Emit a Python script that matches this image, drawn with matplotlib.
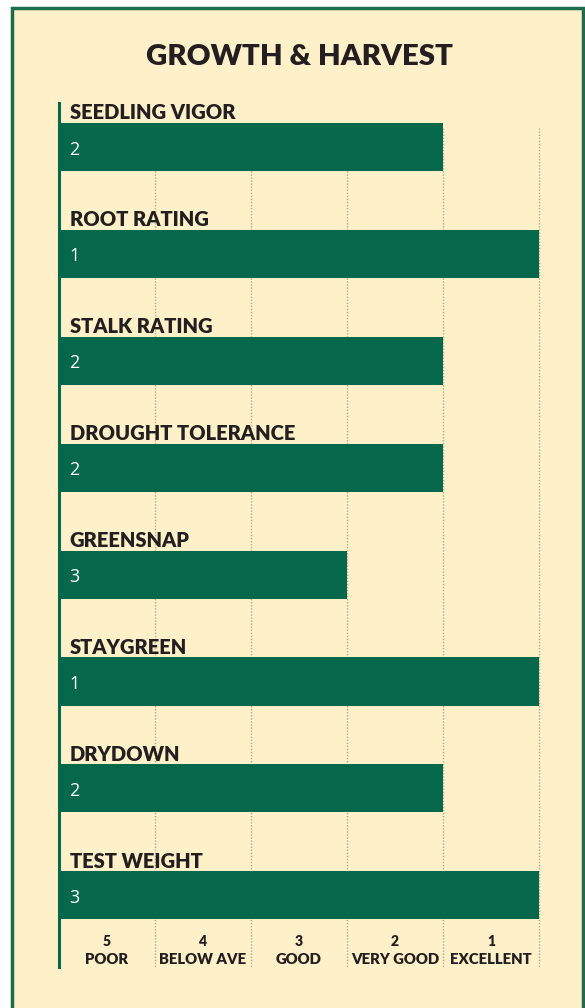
import matplotlib.pyplot as plt
from matplotlib.patches import Rectangle

# Chart data
traits = ["SEEDLING VIGOR", "ROOT RATING", "STALK RATING", "DROUGHT TOLERANCE",
          "GREENSNAP", "STAYGREEN", "DRYDOWN", "TEST WEIGHT"]
scores = [2, 1, 2, 2, 3, 1, 2, 3]
bar_len = [4, 5, 4, 4, 3, 5, 4, 5]  # as drawn (test weight bar runs full width)
tick_nums = ["5", "4", "3", "2", "1"]
tick_names = ["POOR", "BELOW AVE", "GOOD", "VERY GOOD", "EXCELLENT"]

cream = "#FEF0C8"
green = "#05684B"
dark = "#231F20"

W, H = 585, 1008
fig = plt.figure(figsize=(W / 100, H / 100), dpi=100)
fig.patch.set_facecolor("white")

# framed cream panel
fig.patches.append(Rectangle((12 / W, -0.02), (583 - 12) / W, 1 - 8 / H + 0.02,
                             transform=fig.transFigure, facecolor=cream,
                             edgecolor="#1F6B4E", linewidth=2.5, zorder=-5))

fig.text(299 / W, 1 - 57 / H, "GROWTH & HARVEST", ha="center", va="center",
         fontsize=21.2, fontweight="heavy", family="Lato", color=dark)

# plot area in pixels: x 59..539, y 103..967
ax = fig.add_axes([59 / W, 1 - 967 / H, 480 / W, 864 / H])
ax.set_facecolor("none")
ax.set_xlim(0, 5)
ax.set_ylim(7.67, -0.41)

for x in range(1, 6):
    ax.plot([x, x], [-0.18, 7.67], color="#B5AB92", lw=1, ls=(0, (1, 1.2)),
            zorder=1, clip_on=False)

ax.barh(range(len(traits)), bar_len, height=0.45, left=0, color=green, zorder=2)

for i, (name, s) in enumerate(zip(traits, scores)):
    ax.text(0.11, i - 0.26, name, ha="left", va="baseline", fontsize=14.5,
            fontweight="heavy", family="Lato", color=dark)
    ax.text(0.11, i + 0.025, str(s), ha="left", va="center", fontsize=13,
            family="Open Sans", color="white", zorder=3)

for k, (num, lab) in enumerate(zip(tick_nums, tick_names)):
    ax.text(k + 0.5, 7.43, num, ha="center", va="center", fontsize=10,
            fontweight="heavy", family="Lato", color=dark)
    ax.text(k + 0.5, 7.6, lab, ha="center", va="center", fontsize=10.7,
            fontweight="heavy", family="Lato", color=dark)

for side in ["top", "right", "bottom"]:
    ax.spines[side].set_visible(False)
ax.spines["left"].set_color(green)
ax.spines["left"].set_linewidth(2.2)
ax.set_xticks([])
ax.set_yticks([])

fig.savefig("out.png", dpi=100, facecolor=fig.get_facecolor())
